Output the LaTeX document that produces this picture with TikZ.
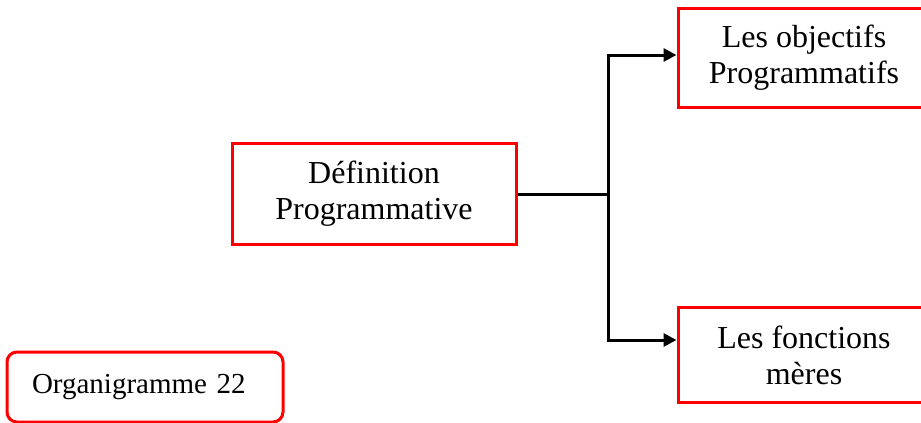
\documentclass[tikz,border=0pt]{standalone}
\usepackage{fontspec}
\setmainfont{Liberation Serif}
\usepackage{xcolor}
\usepackage{tikz}
\usetikzlibrary{arrows.meta, positioning, calc}
\definecolor{Rouge}{RGB}{255, 0, 0}
\definecolor{Trait}{RGB}{0, 0, 0}

\begin{document}
\begin{tikzpicture}[x=1pt,y=-1pt,
    caja/.style={draw=Rouge,line width=3pt,fill=white,align=center,inner sep=0pt,
      font=\fontsize{32}{36}\selectfont},
    lien/.style={draw=Trait,line width=3pt},
    fleche/.style={lien,-{Triangle[length=13pt,width=13pt]}}]
  \clip (0,0) rectangle (921,423);
  \fill[white] (0,0) rectangle (921,423);
  % boites
  \node[caja,minimum width=284pt,minimum height=101pt] (defprog) at (374,194)
    {Définition\\Programmative};
  \node[caja,minimum width=252pt,minimum height=99pt] (objectifs) at (804,58)
    {Les objectifs\\Programmatifs};
  \node[caja,minimum width=252pt,minimum height=95pt] (fonctions) at (804,355)
    {Les fonctions\\mères};
  \node[caja,rounded corners=10pt,align=left,text width=226pt,inner xsep=25pt,
    minimum height=70pt,font=\fontsize{29}{32}\selectfont] (organi) at (145,387)
    {Organigramme 22};
  % liaisons
  \coordinate (embr) at (608,194);
  \draw[lien] (defprog.east) -- (embr);
  \foreach \cible/\y in {objectifs/55,fonctions/340}{
    \draw[fleche] (embr) |- (\cible.west |- 0,\y);
  }
\end{tikzpicture}
\end{document}
